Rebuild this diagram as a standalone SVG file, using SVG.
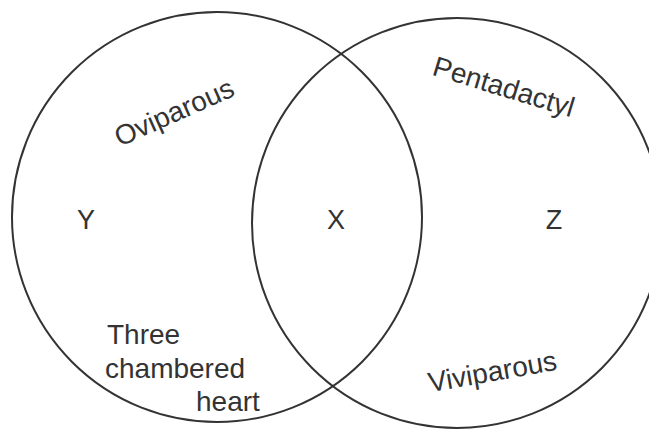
<svg xmlns="http://www.w3.org/2000/svg" width="649" height="430" viewBox="0 0 649 430">
  <style>
    .set { fill: none; stroke: #333; stroke-width: 2; }
    .lbl { font-family: "Liberation Sans", Arial, Helvetica, sans-serif; font-size: 27px; fill: #333; }
    .big { font-size: 28px; }
    .mid { text-anchor: middle; }
  </style>
  <rect x="0" y="0" width="649" height="430" fill="#fff"/>
  <g id="set-left">
    <circle class="set" cx="217" cy="217" r="205"/>
  </g>
  <g id="set-right">
    <circle class="set" cx="457" cy="223" r="205"/>
  </g>
  <g id="region-Y">
    <text class="lbl mid" x="86" y="229">Y</text>
    <text class="lbl big mid" x="0" y="0" transform="translate(178,121) rotate(-24)">Oviparous</text>
    <text class="lbl big" x="107" y="344">Three</text>
    <text class="lbl big" x="105" y="378">chambered</text>
    <text class="lbl big" x="196" y="411">heart</text>
  </g>
  <g id="region-X">
    <text class="lbl mid" x="336" y="229">X</text>
  </g>
  <g id="region-Z">
    <text class="lbl mid" x="554" y="229">Z</text>
    <text class="lbl big mid" x="0" y="0" transform="translate(501,96) rotate(17)">Pentadactyl</text>
    <text class="lbl big mid" x="0" y="0" transform="translate(494,381) rotate(-10)">Viviparous</text>
  </g>
</svg>
